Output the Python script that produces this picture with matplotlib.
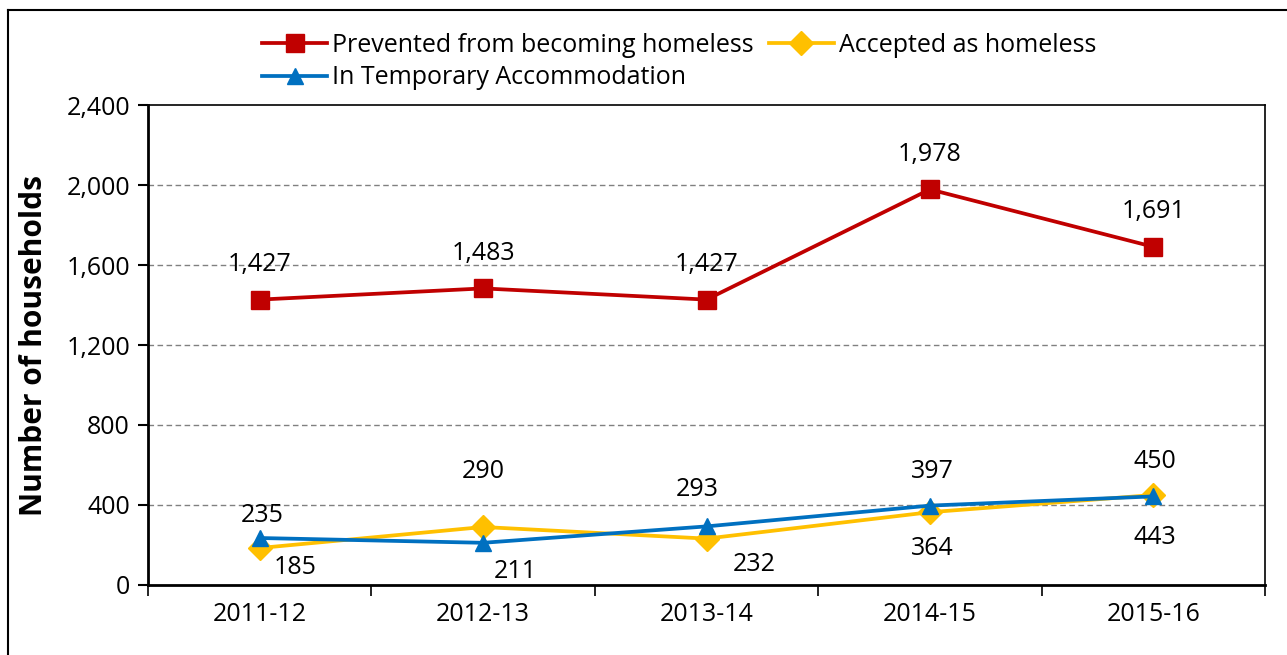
import matplotlib
matplotlib.use("Agg")
import matplotlib.pyplot as plt
from matplotlib.lines import Line2D
from matplotlib.ticker import FuncFormatter, MultipleLocator, FixedLocator

categories = ["2011-12", "2012-13", "2013-14", "2014-15", "2015-16"]
prevented = [1427, 1483, 1427, 1978, 1691]
accepted = [185, 290, 232, 364, 450]
temporary = [235, 211, 293, 397, 443]
series_names = ["Prevented from becoming homeless", "Accepted as homeless",
                "In Temporary Accommodation"]
y_label = "Number of households"

# label offsets in pixels (dx, dy) - styling only
off_prev = [(0, 35)] * 5
off_acc = [(35, -19), (0, 55), (48, -26), (2, -36), (2, 34)]
off_tmp = [(2, 23), (32, -29), (-9, 37), (2, 34), (2, -41)]

plt.rcParams['font.family'] = ['Open Sans', 'DejaVu Sans']

fig = plt.figure(figsize=(12.87, 6.55), dpi=100)
ax = fig.add_axes([148/1287, 70/655, (1265-148)/1287, (585-105)/655])

x = list(range(len(categories)))
red, yellow, blue = "#C00000", "#FFC000", "#0070C0"

l1, = ax.plot(x, prevented, color=red, lw=2.7, marker="s", ms=13.5, zorder=4)
l2, = ax.plot(x, accepted, color=yellow, lw=2.7, marker="D", ms=12, zorder=3)
l3, = ax.plot(x, temporary, color=blue, lw=2.7, marker="^", ms=12, zorder=4)

def lab(vals, offs):
    for xi, v, (dx, dy) in zip(x, vals, offs):
        ax.annotate(f"{v:,}", (xi, v), xytext=(dx, dy), textcoords="offset pixels",
                    ha="center", va="center", fontsize=18, color="black", zorder=6)

lab(prevented, off_prev)
lab(accepted, off_acc)
lab(temporary, off_tmp)

ax.set_xlim(-0.5, 4.5)
ax.set_ylim(0, 2400)
ax.yaxis.set_major_locator(MultipleLocator(400))
ax.yaxis.set_major_formatter(FuncFormatter(lambda v, p: f"{int(v):,}"))
ax.set_xticks(x)
ax.set_xticklabels(categories)
ax.xaxis.set_minor_locator(FixedLocator([i - 0.5 for i in range(len(categories) + 1)]))
ax.tick_params(axis="x", which="major", length=0, pad=12, labelsize=18)
ax.tick_params(axis="x", which="minor", length=8, width=1.2, direction="out")
ax.tick_params(axis="y", length=7, width=1.5, direction="out", labelsize=18, pad=6)

for yv in [400, 800, 1200, 1600, 2000]:
    ax.axhline(yv, color="#808080", lw=1.0, ls=(0, (4, 2.5)), zorder=1)

ax.spines["left"].set_linewidth(2)
ax.spines["bottom"].set_linewidth(2)
ax.spines["top"].set_linewidth(1.2)
ax.spines["right"].set_linewidth(1.2)

ax.set_ylabel(y_label, fontsize=21.5, fontweight="bold")
ax.yaxis.set_label_coords(-(148 - 49) / 1117, 0.5)

leg = fig.legend([l1, l3, l2], [series_names[0], series_names[2], series_names[1]],
                 ncol=2, loc="upper left", bbox_to_anchor=(262/1287, 1 - 33/655),
                 frameon=False, fontsize=18, handlelength=2.6, handletextpad=0.2,
                 columnspacing=0.6, labelspacing=0.3, borderpad=0, borderaxespad=0)

fig.add_artist(Line2D([8/1287, 1.0], [1 - 10/655, 1 - 10/655], color="black", lw=1.5,
                      transform=fig.transFigure))
fig.add_artist(Line2D([8/1287, 8/1287], [0, 1 - 10/655], color="black", lw=1.5,
                      transform=fig.transFigure))

fig.savefig("out.png", dpi=100)
